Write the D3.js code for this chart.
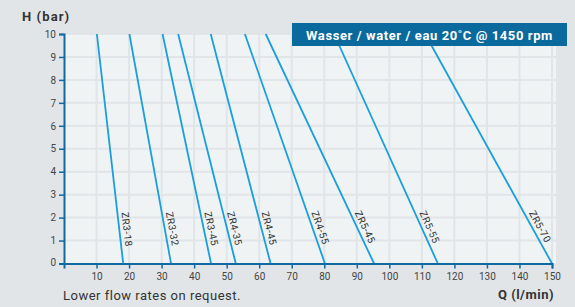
<!DOCTYPE html>
<meta charset="utf-8">
<style>
body { margin: 0; background: #e1e5e8; }
text { font-family: Roboto, "Liberation Sans", sans-serif; }
</style>
<body>
<script src="https://cdn.jsdelivr.net/npm/d3@7"></script>
<script>

var width = 575, height = 307;

// pump curves: flow at H = 0 bar and at H = 10 bar
var pumps = ["ZR3-18", "ZR3-32", "ZR3-45", "ZR4-35", "ZR4-45", "ZR4-55", "ZR5-45", "ZR5-55", "ZR5-70"];
var qAtZero = [18.2, 32.9, 45.2, 52.8, 63.5, 80.2, 95.3, 114.9, 150];
var qAtTen = [10.1, 20.1, 30.3, 35.1, 45.1, 55.6, 62, 83, 111];
var xTicks = [10, 20, 30, 40, 50, 60, 70, 80, 90, 100, 110, 120, 130, 140, 150];
var yTicks = [0, 1, 2, 3, 4, 5, 6, 7, 8, 9, 10];
var labelH = 1.45;

var x = d3.scaleLinear().domain([0, 150]).range([64, 552]);
var y = d3.scaleLinear().domain([0, 10]).range([263.5, 34]);

var svg = d3.select("body").append("svg")
    .attr("width", width)
    .attr("height", height);

// plot background
svg.append("rect")
    .attr("x", x(0)).attr("y", y(10) - 1)
    .attr("width", 556 - x(0)).attr("height", y(0) - y(10) + 1)
    .attr("fill", "#eff3f4");

// grid
svg.append("g").selectAll("line").data(xTicks).join("line")
    .attr("x1", d => x(d)).attr("x2", d => x(d))
    .attr("y1", y(10) - 1).attr("y2", y(0))
    .attr("stroke", "#e1e5e8").attr("stroke-width", 2);
svg.append("g").selectAll("line").data(yTicks.slice(1)).join("line")
    .attr("x1", x(0)).attr("x2", 556)
    .attr("y1", d => y(d)).attr("y2", d => y(d))
    .attr("stroke", "#e1e5e8").attr("stroke-width", 2);

// pump lines
var curves = pumps.map(function(p, i) {
  return {name: p, q0: qAtZero[i], q10: qAtTen[i]};
});

svg.append("g").selectAll("line").data(curves).join("line")
    .attr("x1", d => x(d.q10)).attr("y1", y(10))
    .attr("x2", d => x(d.q0)).attr("y2", y(0))
    .attr("stroke", "#1a9fdc").attr("stroke-width", 1.8);

svg.append("g").selectAll("text").data(curves).join("text")
    .attr("transform", function(d) {
      var px = x(d.q0 + (d.q10 - d.q0) * labelH / 10),
          py = y(labelH),
          a = Math.atan2(y(0) - y(10), x(d.q0) - x(d.q10)) * 180 / Math.PI;
      return "translate(" + px + "," + py + ") rotate(" + a + ")";
    })
    .attr("y", -4)
    .attr("text-anchor", "middle")
    .attr("font-size", 10)
    .attr("letter-spacing", 0.5)
    .attr("fill", "#333")
    .text(d => d.name);

// axes
var yAxis = svg.append("g")
    .attr("transform", "translate(" + x(0) + ",0)")
    .call(d3.axisLeft(y).tickValues(yTicks).tickSize(5).tickFormat(d3.format("d")));
var xAxis = svg.append("g")
    .attr("transform", "translate(0," + y(0) + ")")
    .call(d3.axisBottom(x).tickValues(xTicks).tickSize(5));

[xAxis, yAxis].forEach(function(g) {
  g.select(".domain").attr("stroke", "#1069a0").attr("stroke-width", 2);
  g.selectAll(".tick line").attr("stroke", "#1069a0").attr("stroke-width", 1.5);
  g.selectAll(".tick text").attr("fill", "#444").attr("font-size", 10)
      .attr("font-family", "Roboto, sans-serif");
});
yAxis.select(".tick text").attr("dy", "0.2em");
yAxis.selectAll(".tick text").attr("x", -8);
xAxis.selectAll(".tick text").attr("y", 9);

// titles
svg.append("text").attr("x", 22).attr("y", 21)
    .attr("font-size", 13).attr("font-weight", "bold").attr("fill", "#333")
    .attr("letter-spacing", 1.1)
    .text("H (bar)");
svg.append("text").attr("x", 554).attr("y", 299)
    .attr("text-anchor", "end")
    .attr("font-size", 13).attr("font-weight", "bold").attr("fill", "#333")
    .attr("letter-spacing", 0.5)
    .text("Q (l/min)");
svg.append("text").attr("x", 63).attr("y", 300)
    .attr("font-size", 13).attr("fill", "#333")
    .attr("letter-spacing", 0.5)
    .text("Lower flow rates on request.");

// condition box
svg.append("rect")
    .attr("x", 292).attr("y", 23).attr("width", 275).attr("height", 23)
    .attr("fill", "#0b6a9d");
svg.append("text")
    .attr("x", 429.5).attr("y", 39.5)
    .attr("text-anchor", "middle")
    .attr("font-size", 13).attr("font-weight", "bold").attr("fill", "#fff")
    .attr("letter-spacing", 0.6)
    .text("Wasser / water / eau 20˚C @ 1450 rpm");

</script>
